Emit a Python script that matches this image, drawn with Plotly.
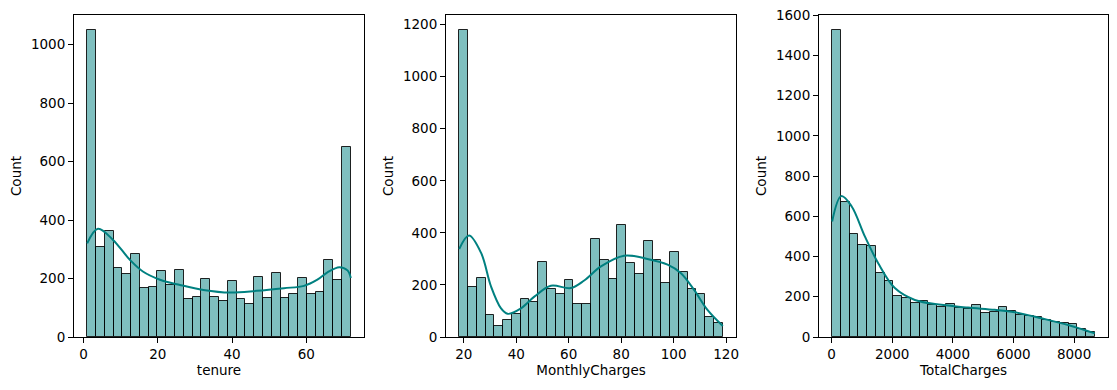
import plotly.graph_objects as go

# ---- data ----
tenure_range = [1, 72]
tenure_counts = [1049, 308, 363, 236, 215, 284, 167, 171, 226, 178, 229, 129, 136, 198, 136,
                 123, 191, 129, 112, 205, 133, 219, 133, 147, 202, 147, 153, 263, 195, 651]
tenure_kde_x = [1, 3.9, 7.9, 12.5, 16, 20.6, 26, 32.3, 39.5, 46.7, 54, 59.4, 63, 65.7, 68.9, 71.1, 72]
tenure_kde_y = [320, 370, 333, 264, 224, 196, 178, 161, 152, 158, 167, 175, 196, 221, 239, 228, 202]

monthly_range = [18.25, 118.75]
monthly_counts = [1178, 191, 226, 84, 41, 64, 87, 145, 134, 288, 184, 164, 218, 126, 126,
                  376, 295, 222, 430, 284, 241, 369, 295, 207, 326, 249, 184, 164, 76, 53]
monthly_kde_x = [18.25, 22, 26.6, 30.4, 34.2, 36.7, 41.8, 46.9, 53.2, 60.8, 65.9, 72.3, 81.1, 90,
                 97.7, 102.7, 107.8, 112.9, 118.75]
monthly_kde_y = [338, 390, 323, 194, 110, 89, 110, 155, 197, 188, 217, 271, 312, 300,
                 278, 246, 181, 104, 42]

total_range = [18.8, 8684.8]
total_counts = [1524, 671, 512, 457, 452, 317, 277, 203, 193, 168, 178, 158, 148, 163, 143,
                138, 158, 118, 123, 148, 128, 108, 103, 98, 83, 73, 68, 63, 38, 23]
total_kde_x = [18.8, 320, 659, 1098, 1538, 2087, 2746, 3626, 4505, 5384, 6043, 6923, 7802, 8684.8]
total_kde_y = [574, 700, 650, 500, 367, 243, 184, 160, 146, 135, 123, 93, 60, 18]

labels = ["tenure", "MonthlyCharges", "TotalCharges"]
x_ticks = [[0, 20, 40, 60], [20, 40, 60, 80, 100, 120], [0, 2000, 4000, 6000, 8000]]
y_ticks = [[0, 200, 400, 600, 800, 1000], [0, 200, 400, 600, 800, 1000, 1200],
           [0, 200, 400, 600, 800, 1000, 1200, 1400, 1600]]

panels = [
    (tenure_range, tenure_counts, tenure_kde_x, tenure_kde_y),
    (monthly_range, monthly_counts, monthly_kde_x, monthly_kde_y),
    (total_range, total_counts, total_kde_x, total_kde_y),
]

W, H = 1117, 390
x_px = [(74, 364), (446, 736), (819, 1108)]
y_top, y_bot = 15, 337

FILL = "rgba(0,128,128,0.5)"
TEAL = "#008080"
FONT = "DejaVu Sans"

fig = go.Figure()
layout = {}
for i, (rng, counts, kx, ky) in enumerate(panels):
    n = len(counts)
    lo, hi = rng
    w = (hi - lo) / n
    centers = [lo + w * (k + 0.5) for k in range(n)]
    ax = "" if i == 0 else str(i + 1)
    fig.add_trace(go.Bar(
        x=centers, y=counts, width=[w] * n,
        marker=dict(color=FILL, line=dict(color="rgba(0,0,0,0.85)", width=1)),
        xaxis="x" + ax, yaxis="y" + ax, showlegend=False, hoverinfo="x+y",
    ))
    fig.add_trace(go.Scatter(
        x=kx, y=ky, mode="lines", line=dict(color=TEAL, width=2, shape="spline", smoothing=1.0),
        xaxis="x" + ax, yaxis="y" + ax, showlegend=False,
    ))
    span = hi - lo
    ymax = max(counts) * 1.05
    layout["xaxis" + ax] = dict(
        domain=[x_px[i][0] / W, x_px[i][1] / W],
        range=[lo - 0.05 * span, hi + 0.05 * span],
        anchor="y" + ax, automargin=False,
        tickvals=x_ticks[i], ticks="outside", ticklen=5, tickwidth=1, tickcolor="black",
        showline=True, linecolor="black", linewidth=1, mirror=True,
        showgrid=False, zeroline=False,
        tickfont=dict(family=FONT, size=13.5, color="black"),
        title=dict(text=labels[i], font=dict(family=FONT, size=13.5, color="black"), standoff=4),
    )
    layout["yaxis" + ax] = dict(
        domain=[1 - y_bot / H, 1 - y_top / H],
        range=[0, ymax],
        anchor="x" + ax, automargin=False,
        tickvals=y_ticks[i], ticks="outside", ticklen=5, tickwidth=1, tickcolor="black",
        showline=True, linecolor="black", linewidth=1, mirror=True,
        showgrid=False, zeroline=False,
        tickfont=dict(family=FONT, size=13.5, color="black"),
        title=dict(text="Count", font=dict(family=FONT, size=13.5, color="black"), standoff=6),
    )

fig.update_layout(
    width=W, height=H,
    margin=dict(l=0, r=0, t=0, b=0),
    paper_bgcolor="white", plot_bgcolor="white",
    bargap=0,
    **layout,
)

fig.write_html("out.html", config={"displayModeBar": False},
               post_script="document.body.style.margin='0';document.body.style.overflow='hidden';")
